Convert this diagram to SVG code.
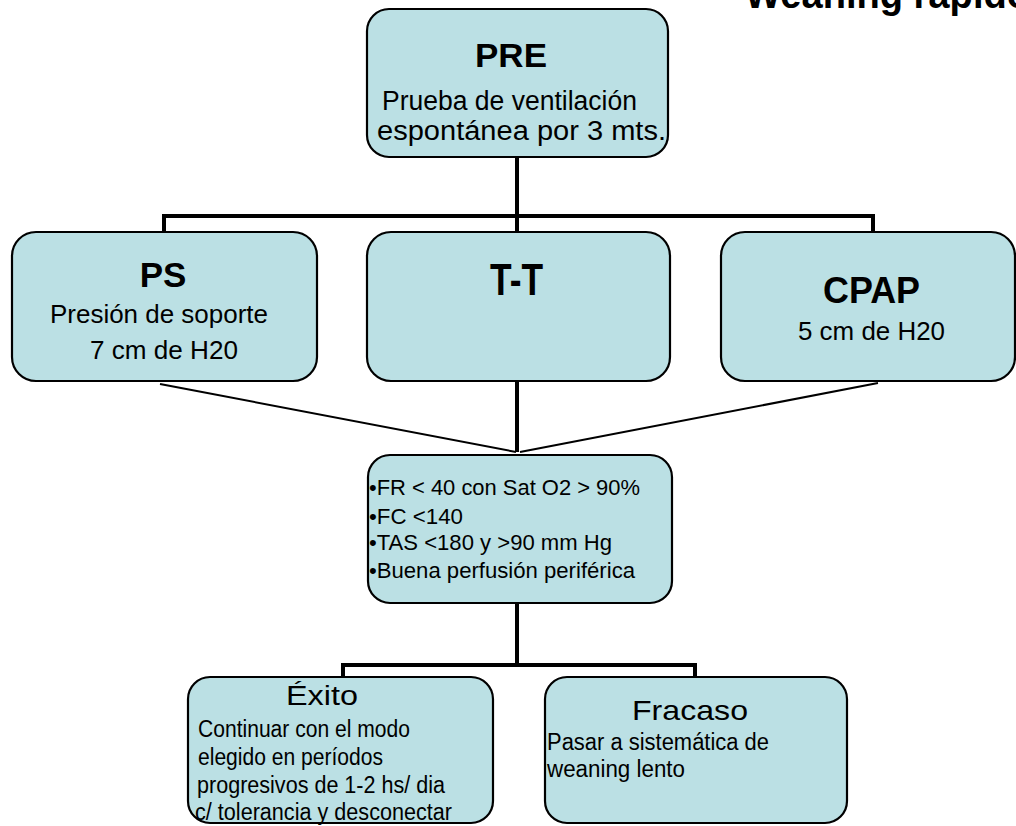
<svg xmlns="http://www.w3.org/2000/svg" width="1016" height="826" viewBox="0 0 1016 826">
<style>
.box{fill:#BBE0E4;stroke:#000;stroke-width:2.2}
.t{font-family:"Liberation Sans",Arial,sans-serif;fill:#000}
.b{font-weight:bold}
.thick{stroke:#000;stroke-width:4;fill:none}
.thin{stroke:#000;stroke-width:2;fill:none}
</style>
<rect width="1016" height="826" fill="#fff"/>
<text class="t b" x="745" y="8" font-size="40" textLength="285" lengthAdjust="spacingAndGlyphs">Weaning rápido</text>
<g id="connectors">
<path class="thick" d="M517 157V452M164 232V216H873V232"/>
<path class="thin" d="M160 384L516 452M878 383L520 452"/>
<path class="thick" d="M517 603V665M343 677V665H695V677"/>
</g>
<g id="pre">
<rect class="box" x="367" y="9" width="301" height="148" rx="22"/>
<text class="t b" x="511" y="67" font-size="34" text-anchor="middle" textLength="72" lengthAdjust="spacingAndGlyphs">PRE</text>
<text class="t" x="382" y="110" font-size="27" textLength="255" lengthAdjust="spacingAndGlyphs">Prueba de ventilación</text>
<text class="t" x="377" y="140" font-size="27" textLength="289" lengthAdjust="spacingAndGlyphs">espontánea por 3 mts.</text>
</g>
<g id="ps">
<rect class="box" x="12" y="232" width="305" height="149" rx="24"/>
<text class="t b" x="163" y="287" font-size="35" text-anchor="middle">PS</text>
<text class="t" x="50" y="323" font-size="26" textLength="218" lengthAdjust="spacingAndGlyphs">Presión de soporte</text>
<text class="t" x="90" y="359" font-size="26" textLength="148" lengthAdjust="spacingAndGlyphs">7 cm de H20</text>
</g>
<g id="tt">
<rect class="box" x="367" y="232" width="303" height="149" rx="24"/>
<text class="t b" x="490" y="295" font-size="45" textLength="53" lengthAdjust="spacingAndGlyphs">T-T</text>
</g>
<g id="cpap">
<rect class="box" x="721" y="232" width="294" height="149" rx="24"/>
<text class="t b" x="823" y="303" font-size="37" textLength="97" lengthAdjust="spacingAndGlyphs">CPAP</text>
<text class="t" x="798" y="340" font-size="26" textLength="147" lengthAdjust="spacingAndGlyphs">5 cm de H20</text>
</g>
<g id="criterios">
<rect class="box" x="368" y="455" width="304" height="148" rx="22"/>
<text class="t" x="369" y="495" font-size="22" textLength="271" lengthAdjust="spacingAndGlyphs">•FR &lt; 40 con Sat O2 &gt; 90%</text>
<text class="t" x="369" y="524" font-size="22" textLength="94" lengthAdjust="spacingAndGlyphs">•FC &lt;140</text>
<text class="t" x="369" y="550" font-size="22" textLength="243" lengthAdjust="spacingAndGlyphs">•TAS &lt;180 y &gt;90 mm Hg</text>
<text class="t" x="369" y="578" font-size="22" textLength="266" lengthAdjust="spacingAndGlyphs">•Buena perfusión periférica</text>
</g>
<g id="exito">
<rect class="box" x="188" y="677" width="305" height="146" rx="22"/>
<text class="t" x="286" y="705" font-size="27" textLength="72" lengthAdjust="spacingAndGlyphs">Éxito</text>
<text class="t" x="198" y="737" font-size="23" textLength="212" lengthAdjust="spacingAndGlyphs">Continuar con el modo</text>
<text class="t" x="198" y="765" font-size="23" textLength="185" lengthAdjust="spacingAndGlyphs">elegido en períodos</text>
<text class="t" x="197" y="793" font-size="23" textLength="248" lengthAdjust="spacingAndGlyphs">progresivos de 1-2 hs/ dia</text>
<text class="t" x="195" y="820" font-size="23" textLength="257" lengthAdjust="spacingAndGlyphs">c/ tolerancia y desconectar</text>
</g>
<g id="fracaso">
<rect class="box" x="545" y="677" width="302" height="146" rx="22"/>
<text class="t" x="632" y="720" font-size="28" textLength="116" lengthAdjust="spacingAndGlyphs">Fracaso</text>
<text class="t" x="547" y="750" font-size="23" textLength="222" lengthAdjust="spacingAndGlyphs">Pasar a sistemática de</text>
<text class="t" x="547" y="777" font-size="23" textLength="138" lengthAdjust="spacingAndGlyphs">weaning lento</text>
</g>
</svg>
